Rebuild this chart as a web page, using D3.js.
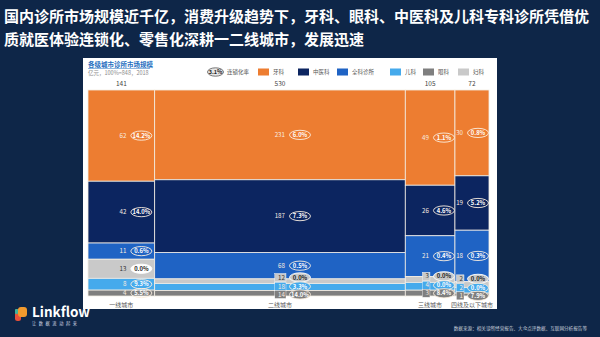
<!DOCTYPE html>
<html><head><meta charset="utf-8">
<script src="https://cdn.jsdelivr.net/npm/d3@7"></script>
<style>
html,body{margin:0;padding:0;background:#0e2648;}
svg{display:block;}
text{font-family:"Noto Sans CJK SC","Noto Sans",sans-serif;}
</style></head>
<body>
<svg id="c" width="600" height="337"></svg>
<script>
// ---------- data ----------
const titleLines = ["国内诊所市场规模近千亿，消费升级趋势下，牙科、眼科、中医科及儿科专科诊所凭借优",
                    "质就医体验连锁化、零售化深耕一二线城市，发展迅速"];
const chartTitle = "各级城市诊所市场规模";
const chartSubtitle = "亿元，100%=848，2018";
const cities = ["一线城市","二线城市","三线城市","四线及以下城市"];
const cityTotals = [141,530,105,72];
const departments = ["牙科","中医科","全科诊所","妇科","儿科","眼科"]; // stacking order, top to bottom
const legendOrder = ["牙科","中医科","全科诊所","儿科","眼科","妇科"];
const values = {
  "牙科":    [62,231,49,30],
  "中医科":  [42,187,26,19],
  "全科诊所":[11,68,21,18],
  "妇科":    [13,12,3,2],
  "儿科":    [8,18,4,2],
  "眼科":    [4,14,3,1]
};
const chainRates = {
  "牙科":    ["14.2%","6.0%","1.1%","0.8%"],
  "中医科":  ["14.0%","7.3%","4.6%","5.2%"],
  "全科诊所":["0.6%","0.5%","0.4%","0.3%"],
  "妇科":    ["0.0%","0.0%","0.0%","0.0%"],
  "儿科":    ["9.3%","3.3%","0.0%","0.0%"],
  "眼科":    ["5.5%","14.0%","8.4%","7.9%"]
};
const legendRateSample = "3.1%";
const legendRateLabel = "连锁化率";
const sourceNote = "数据来源：相关诊所经营报告、大众点评数据、互联网分析报告等";

// ---------- styles ----------
const colors = {"牙科":"#ed7d31","中医科":"#0c2560","全科诊所":"#1f63c4","儿科":"#45aaec","眼科":"#7f7f7f","妇科":"#c9c9c9"};
const darkText = {"妇科":true};

const svg = d3.select("#c");
const W = 600, H = 337;

// background faint network lines
const bg = svg.append("g");
bg.append("rect").attr("width",W).attr("height",H).attr("fill","#0e2648");

// title
svg.append("g").selectAll("text").data(titleLines).join("text")
  .attr("x",4).attr("y",(d,i)=>22+i*23)
  .attr("fill","#ffffff").attr("font-size",15).attr("font-weight","bold")
  .text(d=>d);

// panel
svg.append("rect").attr("x",83).attr("y",58).attr("width",414).attr("height",251).attr("fill","#ffffff");

// chart title
svg.append("text").attr("x",88).attr("y",67).attr("font-size",6.5).attr("font-weight","bold")
  .attr("fill","#1f6fc0").text(chartTitle);
svg.append("line").attr("x1",88).attr("x2",150).attr("y1",68.5).attr("y2",68.5).attr("stroke","#1f6fc0").attr("stroke-width",0.5);
svg.append("text").attr("x",88).attr("y",75).attr("font-size",5.5).attr("fill","#8a8a8a").text(chartSubtitle);

// legend
const lg = svg.append("g");
lg.append("ellipse").attr("cx",215.5).attr("cy",72).attr("rx",8).attr("ry",4.2)
  .attr("fill","#e6e6e6").attr("stroke","#444").attr("stroke-width",0.7);
lg.append("text").attr("x",215.5).attr("y",74).attr("text-anchor","middle").attr("font-size",5.5)
  .attr("font-weight","bold").attr("font-family","Liberation Sans").attr("fill","#222").text(legendRateSample);
lg.append("text").attr("x",227).attr("y",74).attr("font-size",5.5).attr("fill","#555").text(legendRateLabel);
const legX = d3.scalePoint().domain(legendOrder).range([258,458]);
const legendXs = {"牙科":258,"中医科":298,"全科诊所":337,"儿科":390,"眼科":423,"妇科":458};
const li = lg.selectAll("g.li").data(legendOrder).join("g").attr("class","li")
  .attr("transform",d=>`translate(${legendXs[d]},68.5)`);
li.append("rect").attr("width",11).attr("height",7).attr("fill",d=>colors[d]);
li.append("text").attr("x",15).attr("y",5.8).attr("font-size",5.5).attr("fill","#555").text(d=>d);

// ---------- marimekko ----------
const grand = d3.sum(cityTotals);
const x = d3.scaleLinear().domain([0,grand]).range([88,489]);
const y = d3.scaleLinear().domain([0,1]).range([296,90]);
const cum = d3.cumsum(cityTotals);
const cols = cities.map((c,i)=>{
  const x0 = x(cum[i]-cityTotals[i]), x1 = x(cum[i]);
  const colSum = d3.sum(departments, d=>values[d][i]);
  let acc = 0;
  const segs = departments.map(d=>{
    const v = values[d][i];
    const top = y(1-acc/colSum);
    acc += v;
    const bot = y(1-acc/colSum);
    return {dept:d, v, rate:chainRates[d][i], y0:top, y1:bot, ci:i};
  });
  return {city:c, total:cityTotals[i], x0, x1, segs};
});

const chart = svg.append("g");
cols.forEach(col=>{
  const g = chart.append("g");
  g.selectAll("rect").data(col.segs).join("rect")
    .attr("x",col.x0).attr("width",col.x1-col.x0)
    .attr("y",d=>d.y0).attr("height",d=>d.y1-d.y0)
    .attr("fill",d=>colors[d.dept])
    .attr("stroke","#f3ede4").attr("stroke-width",0.8);
  const cx = (col.x0+col.x1)/2;
  // total on top
  g.append("text").attr("x",cx).attr("y",86).attr("text-anchor","middle")
    .attr("font-size",6.5).attr("font-family","Liberation Sans").attr("fill","#444").text(col.total);
  // city label
  g.append("text").attr("x",cx).attr("y",307).attr("text-anchor","middle")
    .attr("font-size",6).attr("fill","#555").text(col.city);

  const ex = Math.min(cx+20, col.x1-11);
  const nx = ex-15;
  const small = col.segs.slice(3);
  const smallH = small[small.length-1].y1 - small[0].y0;
  const boxed = smallH < 30;
  const groupMid = (small[0].y0 + small[small.length-1].y1)/2 - 1;
  col.segs.forEach((s,k)=>{
    let ly = (s.y0+s.y1)/2;
    const isSmall = k>=3;
    if (boxed && isSmall) ly = groupMid + [-9,0,8][k-3];
    const dark = !!darkText[s.dept];
    const numStr = String(s.v);
    if (boxed && isSmall) {
      const bw = numStr.length*3.6+4;
      g.append("rect").attr("x",nx-bw+1).attr("y",ly-4).attr("width",bw).attr("height",8)
        .attr("fill",colors[s.dept]).attr("stroke","#ffffff").attr("stroke-width",0.4);
    }
    g.append("text").attr("x",nx).attr("y",ly+2.2).attr("text-anchor","end")
      .attr("font-size",6.2).attr("font-family","Liberation Sans")
      .attr("fill",dark?"#333":"#f8ece0").text(numStr);
    const efill = (boxed && isSmall) ? colors[s.dept] : (dark ? "#ffffff" : "none");
    g.append("ellipse").attr("cx",ex).attr("cy",ly).attr("rx",10.5).attr("ry",4.6)
      .attr("fill",efill).attr("stroke",dark?"#ffffff":"#fbeee0").attr("stroke-width",0.9);
    g.append("text").attr("x",ex).attr("y",ly+2.1).attr("text-anchor","middle")
      .attr("font-size",5.8).attr("font-weight","bold").attr("font-family","Liberation Sans")
      .attr("fill",dark?"#222":"#ffffff").text(s.rate);
  });
});

// ---------- footer ----------
const logo = svg.append("g");
logo.append("rect").attr("x",15).attr("y",309).attr("width",6).attr("height",12).attr("rx",2.5).attr("fill","#e8503a");
logo.append("rect").attr("x",18).attr("y",307).attr("width",9).attr("height",10).attr("rx",3).attr("fill","#f29a2e");
logo.append("rect").attr("x",15).attr("y",309).attr("width",3).attr("height",5).attr("rx",1).attr("fill","#3fb39a");
logo.append("text").attr("x",32).attr("y",317).attr("font-size",13.5).attr("font-weight","bold")
  .attr("font-family","Liberation Sans").attr("fill","#ffffff").text("Linkflow");
logo.append("text").attr("x",32).attr("y",325).attr("font-size",4.2).attr("letter-spacing",2.6)
  .attr("fill","#d9dee8").text("让数据流动起来");
svg.append("text").attr("x",587).attr("y",329.5).attr("text-anchor","end").attr("font-size",4.6)
  .attr("fill","#c8d0dc").text(sourceNote);
</script>
</body></html>
